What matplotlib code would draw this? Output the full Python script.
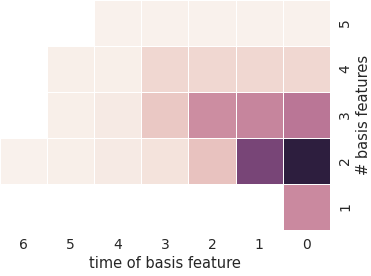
import numpy as np
import pandas as pd
import matplotlib
matplotlib.use("Agg")
import matplotlib.pyplot as plt
import seaborn as sns

times = [6, 5, 4, 3, 2, 1, 0]
n_features = [5, 4, 3, 2, 1]
nan = np.nan
# rows: # basis features (5 -> 1), columns: time of basis feature (6 -> 0)
row_5 = [nan, nan, 0.02, 0.02, 0.02, 0.02, 0.02]
row_4 = [nan, 0.03, 0.03, 0.12, 0.12, 0.12, 0.12]
row_3 = [nan, 0.03, 0.05, 0.18, 0.41, 0.44, 0.50]
row_2 = [0.02, 0.03, 0.05, 0.08, 0.20, 0.75, 1.00]
row_1 = [nan, nan, nan, nan, nan, nan, 0.42]

df = pd.DataFrame([row_5, row_4, row_3, row_2, row_1], index=n_features, columns=times)

sns.set_style("white")
cmap = sns.cubehelix_palette(light=0.95, dark=0.15, as_cmap=True)

fig = plt.figure(figsize=(3.71, 2.76), dpi=100)
ax = fig.add_axes([0.0, 0.167, 0.889, 0.833])
sns.heatmap(df, ax=ax, cmap=cmap, cbar=False, linewidths=0.5, linecolor="white")
ax.yaxis.tick_right()
ax.yaxis.set_label_position("right")
ax.set_yticklabels(n_features, rotation=90, va="center")
ax.set_xticklabels(times, rotation=0)
ax.tick_params(length=0, labelsize=10, colors="#262626", pad=6)
ax.set_xlabel("time of basis feature", fontsize=10.5, color="#262626", labelpad=3)
ax.set_ylabel("# basis features", fontsize=10.5, color="#262626", labelpad=3)
fig.savefig("out.png", dpi=100)
